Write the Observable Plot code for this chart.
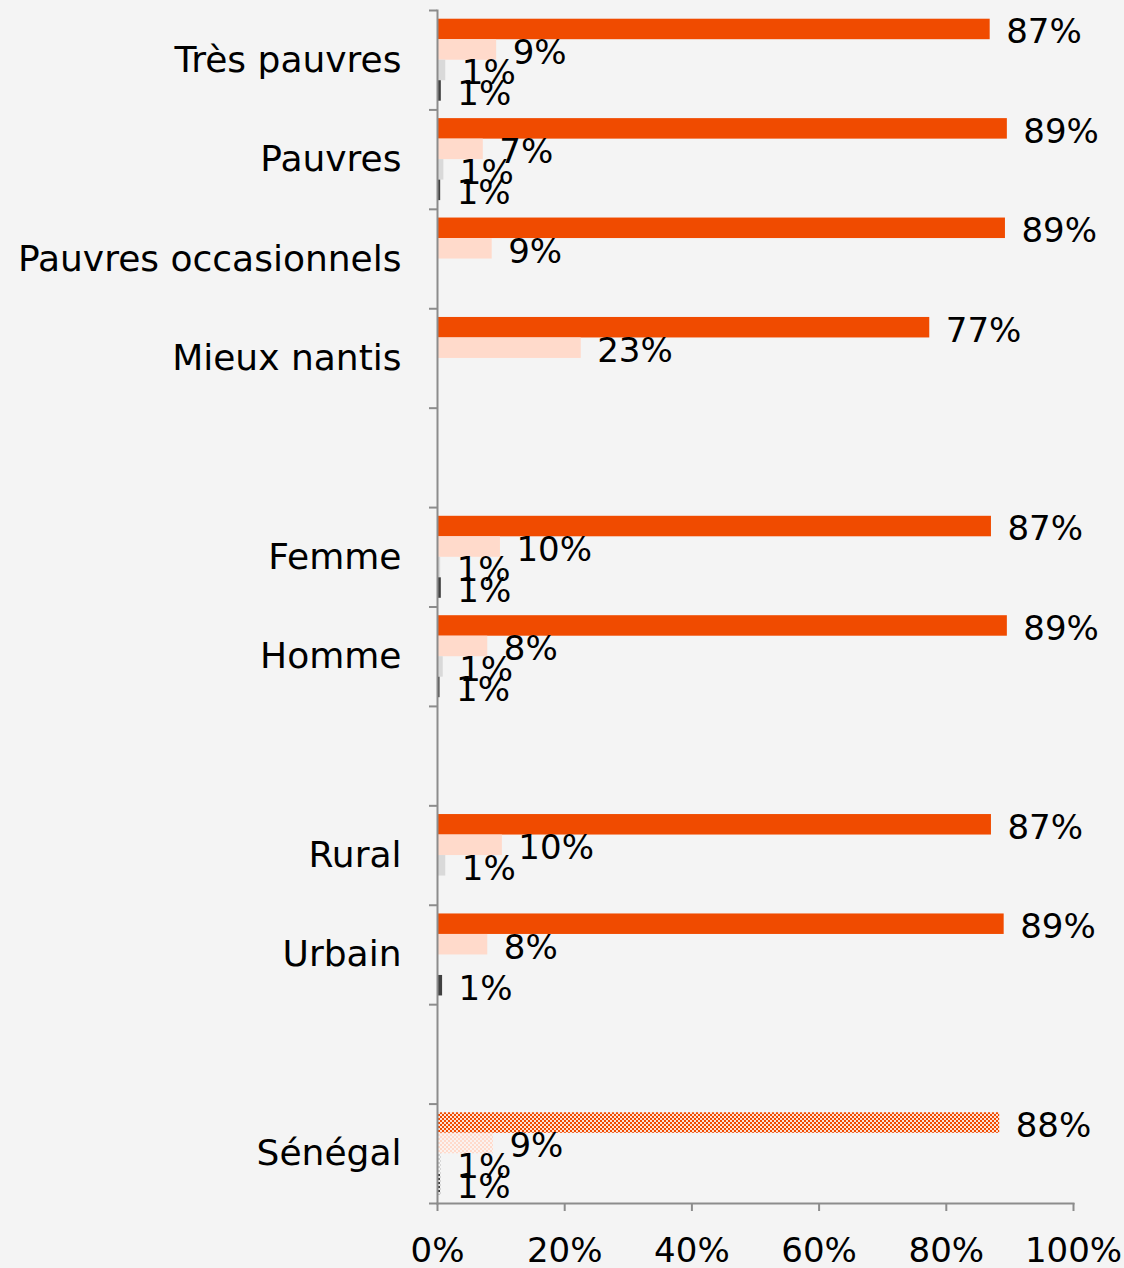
<!DOCTYPE html>
<html><head><meta charset="utf-8">
<script src="https://cdn.jsdelivr.net/npm/d3@7"></script>
<script src="https://cdn.jsdelivr.net/npm/@observablehq/plot@0.6"></script>
<style>body{margin:0;background:#f4f4f4;} svg{display:block}</style>
</head><body><div id="chart"></div>
<script>
const categories = ["Très pauvres","Pauvres","Pauvres occasionnels","Mieux nantis"," ","Femme","Homme","  ","Rural","Urbain","   ","Sénégal"];
const valOrange = [86.9, 89.6, 89.3, 77.4, null, 87.1, 89.6, null, 87.1, 89.1, null, 88.4];
const valPink   = [9.3, 7.2, 8.6, 22.6, null, 9.9, 7.9, null, 10.2, 7.9, null, 8.8];
const valLight  = [1.3, 1.0, null, null, null, 0.5, 0.9, null, 1.3, null, null, 0.6];
const valDark   = [0.6, 0.5, null, null, null, 0.6, 0.4, null, null, 0.8, null, 0.5];
const labOrange = [87, 89, 89, 77, null, 87, 89, null, 87, 89, null, 88];
const labPink   = [9, 7, 9, 23, null, 10, 8, null, 10, 8, null, 9];
const labLight  = [1, 1, null, null, null, 1, 1, null, 1, null, null, 1];
const labDark   = [1, 1, null, null, null, 1, 1, null, null, 1, null, 1];
const xTicks = [0, 20, 40, 60, 80, 100];

const W = 1124, H = 1268, mt = 10, mb = 65, ml = 437, mr = 51;
const bw = (H - mt - mb) / categories.length;
const barH = 20.5;
const pad = (bw - 4 * barH) / 2;
const colors = ["#F04B00", "#FFDACB", "#D9D9D9", "#404040"];
const patIds = ["pO", "pP", "pL", "pD"];
const series = [valOrange, valPink, valLight, valDark];
const labels = [labOrange, labPink, labLight, labDark];
const axisColor = "#8c8c8c";
const FS = 36, FSV = 34;

const marks = [];
series.forEach((vals, j) => {
  const rows = categories.map((c, i) => ({cat: c, v: vals[i], lab: labels[j][i]})).filter(d => d.v != null);
  const insetTop = pad + j * barH, insetBottom = bw - pad - (j + 1) * barH;
  marks.push(Plot.barX(rows.filter(d => d.cat !== "Sénégal"), {y: "cat", x: "v", insetTop, insetBottom, fill: colors[j]}));
  marks.push(Plot.barX(rows.filter(d => d.cat === "Sénégal"), {y: "cat", x: "v", insetTop, insetBottom, fill: `url(#${patIds[j]})`}));
  marks.push(Plot.text(rows, {y: "cat", x: "v", text: d => d.lab + "%", dy: pad + (j + 0.5) * barH - bw / 2 + 3, dx: 16, textAnchor: "start", fontSize: FSV, fill: "#000"}));
});

const plot = Plot.plot({
  width: W, height: H,
  marginTop: mt, marginBottom: mb, marginLeft: ml, marginRight: mr,
  style: {fontFamily: "DejaVu Sans", background: "#f4f4f4", color: "#000", overflow: "visible"},
  x: {domain: [0, 100], label: null},
  y: {domain: categories, padding: 0, round: false, label: null},
  marks: [
    ...marks,
    Plot.frame({anchor: "left", stroke: axisColor, strokeWidth: 2}),
    Plot.frame({anchor: "bottom", stroke: axisColor, strokeWidth: 2}),
    Plot.axisY({tickSize: 8, tickFormat: () => "", dy: -bw / 2, stroke: axisColor, strokeWidth: 2, label: null}),
    Plot.axisY({ticks: [categories[categories.length - 1]], tickSize: 8, tickFormat: () => "", dy: bw / 2, stroke: axisColor, strokeWidth: 2, label: null}),
    Plot.axisY({tickSize: 0, tickPadding: 36, fontSize: FS, fill: "#000", tickFormat: d => d.trim(), label: null}),
    Plot.axisX({ticks: xTicks, tickSize: 8, tickPadding: 26, tickFormat: d => d + "%", fontSize: FSV, stroke: axisColor, strokeWidth: 2, fill: "#000", label: null})
  ]
});

const defs = `<defs>
<pattern id="pO" width="4" height="4" patternUnits="userSpaceOnUse"><rect width="4" height="4" fill="#fbe3d8"/><rect width="2" height="2" fill="#F04B00"/><rect x="2" y="2" width="2" height="2" fill="#F04B00"/></pattern>
<pattern id="pP" width="4" height="4" patternUnits="userSpaceOnUse"><rect width="4" height="4" fill="#fbf3f0"/><rect width="2" height="2" fill="#FFDACB"/><rect x="2" y="2" width="2" height="2" fill="#FFDACB"/></pattern>
<pattern id="pL" width="4" height="4" patternUnits="userSpaceOnUse"><rect width="4" height="4" fill="#f7f7f7"/><rect width="2" height="2" fill="#D0D0D0"/><rect x="2" y="2" width="2" height="2" fill="#D0D0D0"/></pattern>
<pattern id="pD" width="4" height="4" patternUnits="userSpaceOnUse"><rect width="4" height="4" fill="#e8e8e8"/><rect width="2" height="2" fill="#404040"/><rect x="2" y="2" width="2" height="2" fill="#404040"/></pattern>
</defs>`;
plot.insertAdjacentHTML("afterbegin", defs);
document.getElementById("chart").appendChild(plot);
</script>
</body></html>
